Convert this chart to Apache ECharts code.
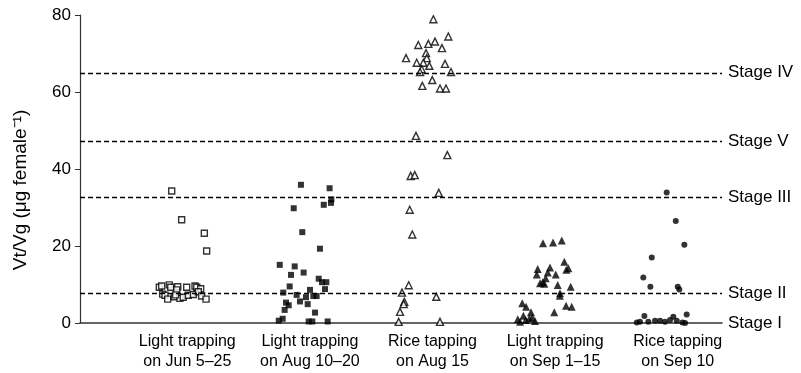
<!DOCTYPE html>
<html lang="en">
<head>
  <meta charset="UTF-8">
  <title>Vt/Vg</title>
  <style>
    html, body { margin: 0; padding: 0; background: #fff; }
    #chart { width: 801px; height: 373px; }
  </style>
</head>
<body>
  <div id="chart"></div>
  <script src="https://cdn.jsdelivr.net/npm/echarts@6/dist/echarts.min.js"></script>
  <script>
    // categories (x positions 1..5)
    var categories = [
      'Light trapping\non Jun 5\u201325',
      'Light trapping\non Aug 10\u201320',
      'Rice tapping\non Aug 15',
      'Light trapping\non Sep 1\u201315',
      'Rice tapping\non Sep 10'
    ];
    var yTicks = [0, 20, 40, 60, 80];

    // stage thresholds
    var stageNames = ['Stage IV', 'Stage V', 'Stage III', 'Stage II'];
    var stageValues = [65, 47.3, 32.7, 7.6];

    // jitter offset (category units) and Vt/Vg value, per group
    var junOff = [-0.127, -0.046, 0.139, 0.158, -0.228, -0.209, -0.147, -0.135, -0.078, -0.086, -0.005, 0.063, 0.077,
      0.109, -0.201, -0.182, -0.160, -0.106, -0.060, -0.033, 0.008, 0.049, 0.090, 0.117, 0.153, -0.095];
    var junVal = [34.3, 26.8, 23.3, 18.7, 9.3, 9.6, 9.9, 9.3, 9.4, 8.6, 9.3, 9.6, 9.3,
      8.9, 7.5, 7.2, 6.2, 6.8, 6.4, 6.7, 7.2, 7.4, 8.1, 7.0, 6.2, 7.3];

    var augOff = [-0.073, 0.161, 0.175, 0.172, 0.113, -0.132, -0.062, 0.082, -0.246, -0.124, -0.051, -0.154, 0.072,
      0.099, 0.134, -0.165, 0.001, 0.123, -0.217, -0.108, 0.028, 0.055, -0.032, -0.081, -0.195, -0.173, -0.018,
      -0.206, 0.042, -0.222, -0.254, -0.010, 0.020, 0.145];
    var augVal = [35.9, 35.0, 32.1, 31.2, 30.7, 29.8, 23.6, 19.3, 15.1, 14.7, 13.1, 12.5, 11.5,
      10.6, 10.6, 9.5, 8.6, 8.8, 7.9, 7.3, 7.0, 7.0, 6.7, 5.6, 5.3, 4.6, 4.9,
      3.4, 2.7, 1.1, 0.6, 0.4, 0.4, 0.4];

    var riceAugOff = [0.007, 0.129, -0.116, -0.034, 0.020, 0.077, -0.216, -0.053, -0.047, -0.075, -0.129, -0.026, 0.102,
      -0.088, -0.102, 0.151, -0.002, -0.083, 0.061, 0.110, -0.135, 0.121, -0.178, -0.145, 0.051, -0.186, -0.165,
      -0.194, -0.249, 0.031, -0.230, -0.235, -0.265, -0.276, 0.061];
    var riceAugVal = [78.9, 74.4, 72.2, 72.5, 73.1, 71.4, 68.8, 70.1, 68.8, 67.6, 67.6, 66.8, 67.3,
      65.9, 65.2, 65.2, 63.1, 61.6, 60.9, 60.9, 48.6, 43.6, 38.2, 38.4, 33.8, 29.4, 23.0,
      9.8, 7.9, 6.8, 5.5, 4.9, 2.9, 0.3, 0.3];

    var sepOff = [-0.099, -0.017, 0.054, 0.075, -0.142, -0.042, 0.091, 0.108, -0.150, -0.060, 0.005, -0.077, -0.101,
      -0.123, -0.088, 0.021, 0.127, 0.040, 0.038, -0.268, -0.237, 0.089, 0.135, -0.197, -0.007, -0.259,
      -0.305, -0.286, -0.240, -0.210, -0.164, -0.186];
    var sepVal = [20.7, 20.9, 21.4, 15.9, 14.0, 14.4, 13.8, 14.2, 12.6, 13.1, 12.6, 11.6, 10.6,
      10.3, 10.2, 9.9, 9.4, 7.7, 7.1, 5.1, 4.2, 4.5, 4.2, 2.8, 2.8, 1.9,
      1.0, 0.3, 0.8, 1.2, 0.5, 1.4];

    var riceSepOff = [-0.090, -0.016, 0.054, -0.212, -0.281, -0.223, 0.000, 0.013, -0.272, -0.036, 0.073,
      -0.334, -0.308, -0.240, -0.185, -0.144, -0.104, -0.063, -0.008, 0.038, 0.060];
    var riceSepVal = [33.9, 26.5, 20.3, 17.0, 11.8, 9.4, 9.4, 8.7, 1.8, 1.6, 2.2,
      0.1, 0.3, 0.3, 0.6, 0.6, 0.3, 0.8, 0.6, 0.1, 0.0];

    function pts(group, offs, vals) {
      return vals.map(function(v, i) { return [group + offs[i], v]; });
    }

    var chart = echarts.init(document.getElementById('chart'));
    var font = 'Liberation Sans, Arial, sans-serif';

    var stageLines = stageNames.map(function(n, i) {
      return { name: n, yAxis: stageValues[i] };
    });
    // Stage I sits on the x axis: label only
    stageLines.push({ name: 'Stage I', yAxis: 0, lineStyle: { color: 'rgba(0,0,0,0)', type: 'solid' } });

    var openStyle = { color: '#fff', borderColor: '#000', borderWidth: 1.4 };
    var fillStyle = { color: '#000' };

    var option = {
      animation: false,
      textStyle: { fontFamily: font },
      grid: { left: 80, right: 79, top: 15, bottom: 50 },
      xAxis: {
        type: 'value',
        min: 0.125,
        max: 5.361,
        axisLine: { show: true, lineStyle: { color: '#333', width: 1.5 } },
        axisTick: { show: false },
        splitLine: { show: false },
        axisLabel: {
          customValues: [1, 2, 3, 4, 5],
          margin: 9,
          color: '#000',
          fontSize: 16,
          lineHeight: 20,
          align: 'center',
          formatter: function(v) { return categories[Math.round(v) - 1]; }
        }
      },
      yAxis: {
        type: 'value',
        min: 0,
        max: 80,
        interval: 20,
        name: 'Vt/Vg (\u03bcg female\u207b\u00b9)',
        nameLocation: 'middle',
        nameGap: 50,
        nameTextStyle: { color: '#000', fontSize: 19, fontFamily: font, padding: [0, 42, 0, 0] },
        axisLine: { show: true, lineStyle: { color: '#333', width: 1.2 } },
        axisTick: { show: true, length: 5, lineStyle: { color: '#333' } },
        splitLine: { show: false },
        axisLabel: {
          color: '#000',
          fontSize: 17,
          margin: 9,
          formatter: function(v) { return yTicks.indexOf(v) >= 0 ? String(v) : ''; }
        }
      },
      series: [
        {
          type: 'scatter', symbol: 'rect', symbolSize: 6,
          itemStyle: openStyle,
          data: pts(1, junOff, junVal),
          z: 3,
          markLine: {
            silent: true,
            symbol: ['none', 'none'],
            lineStyle: { color: '#000', type: [5, 3], width: 1.4 },
            label: {
              show: true, position: 'end', distance: 6,
              formatter: '{b}', color: '#000', fontSize: 17, fontFamily: font
            },
            data: stageLines
          }
        },
        {
          type: 'scatter', symbol: 'rect', symbolSize: 6,
          itemStyle: fillStyle,
          data: pts(2, augOff, augVal)
        },
        {
          type: 'scatter', symbol: 'triangle', symbolSize: 7,
          itemStyle: openStyle,
          data: pts(3, riceAugOff, riceAugVal)
        },
        {
          type: 'scatter', symbol: 'triangle', symbolSize: 8,
          itemStyle: fillStyle,
          data: pts(4, sepOff, sepVal)
        },
        {
          type: 'scatter', symbol: 'circle', symbolSize: 6,
          itemStyle: fillStyle,
          data: pts(5, riceSepOff, riceSepVal)
        }
      ]
    };

    chart.setOption(option);
  </script>
</body>
</html>
